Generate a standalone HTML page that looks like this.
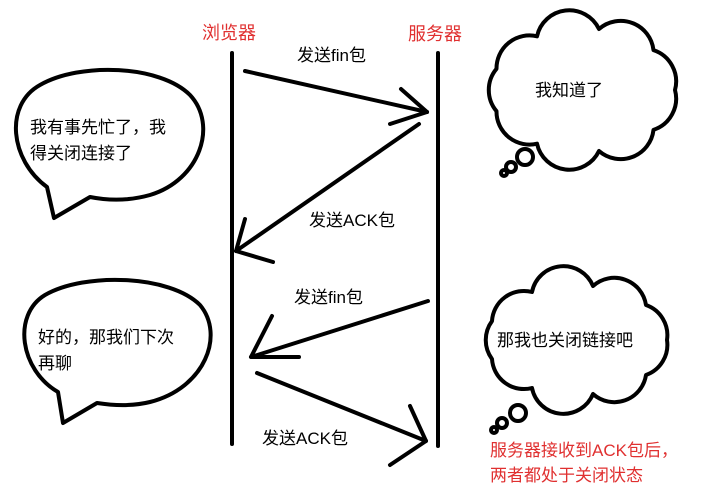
<!DOCTYPE html>
<html><head><meta charset="utf-8"><style>
html,body{margin:0;padding:0;background:#fff;}
svg{display:block;}
text{font-family:"Liberation Sans","Noto Sans CJK SC","WenQuanYi Zen Hei",sans-serif;}
</style></head><body>
<svg width="702" height="495" viewBox="0 0 702 495" xmlns="http://www.w3.org/2000/svg">
<rect width="702" height="495" fill="#fff"/>
<g stroke="#000" stroke-width="4" fill="none" stroke-linecap="round" stroke-linejoin="round">
<!-- lifelines -->
<line x1="232" y1="53" x2="232" y2="444"/>
<line x1="438" y1="53" x2="438" y2="446"/>
<!-- arrow 1 -->
<line x1="245" y1="71" x2="427" y2="112"/>
<polyline points="401,89 427,112 390,124"/>
<!-- arrow 2 -->
<line x1="419" y1="124" x2="236" y2="251"/>
<polyline points="245,219 236,251 273,262"/>
<!-- arrow 3 -->
<line x1="428" y1="301" x2="251" y2="357"/>
<polyline points="272,316 251,357 299,357"/>
<!-- arrow 4 -->
<line x1="257" y1="373" x2="426" y2="441"/>
<polyline points="410,406 426,441 390,465"/>
<!-- speech bubble 1 -->
<path d="M47,187 C10,160 4,105 40,85 C80,62 160,65 190,95 C218,125 200,180 150,195 C125,202 105,200 90,197 L54,218 Z" fill="#fff"/>
<!-- speech bubble 2 -->
<path d="M58,392 C20,370 12,315 45,295 C85,272 170,275 200,305 C225,335 205,388 150,402 C130,407 110,405 97,403 L63,423 Z" fill="#fff"/>
<!-- cloud 1 -->
<path d="M675,90 A33,33 0 0 1 653.5,129.9 A33,33 0 0 1 599,151 A33,33 0 0 1 537,143.7 A33,33 0 0 1 496.5,111.2 A33,33 0 0 1 496.5,68.8 A33,33 0 0 1 537,36.3 A33,33 0 0 1 599,29 A33,33 0 0 1 653.5,50.1 A33,33 0 0 1 675,90 Z" fill="#fff"/>
<circle cx="525" cy="157" r="8"/>
<circle cx="511" cy="167" r="5"/>
<circle cx="504" cy="173" r="3"/>
<!-- cloud 2 -->
<path d="M667,340 A32,32 0 0 1 646,375 A32,32 0 0 1 593,394 A32,32 0 0 1 532,388 A32,32 0 0 1 492,359 A32,32 0 0 1 492,321 A32,32 0 0 1 532,292 A32,32 0 0 1 593,286 A32,32 0 0 1 646,305 A32,32 0 0 1 667,340 Z" fill="#fff"/>
<circle cx="518" cy="413" r="8"/>
<circle cx="502" cy="423" r="5"/>
<circle cx="494" cy="430" r="3"/>
</g>
<g font-size="17" fill="#000">
<text x="297" y="61">发送fin包</text>
<text x="309" y="226">发送ACK包</text>
<text x="294" y="303">发送fin包</text>
<text x="262" y="444">发送ACK包</text>
<text x="30" y="133">我有事先忙了，我</text>
<text x="30" y="159">得关闭连接了</text>
<text x="38" y="343">好的，那我们下次</text>
<text x="38" y="369">再聊</text>
<text x="535" y="96">我知道了</text>
<text x="497" y="346">那我也关闭链接吧</text>
</g>
<g font-size="18" fill="#e03030">
<text x="202" y="39">浏览器</text>
<text x="408" y="40">服务器</text>
</g>
<g font-size="17" fill="#e03030">
<text x="490" y="456">服务器接收到ACK包后，</text>
<text x="490" y="481">两者都处于关闭状态</text>
</g>
</svg>
</body></html>
